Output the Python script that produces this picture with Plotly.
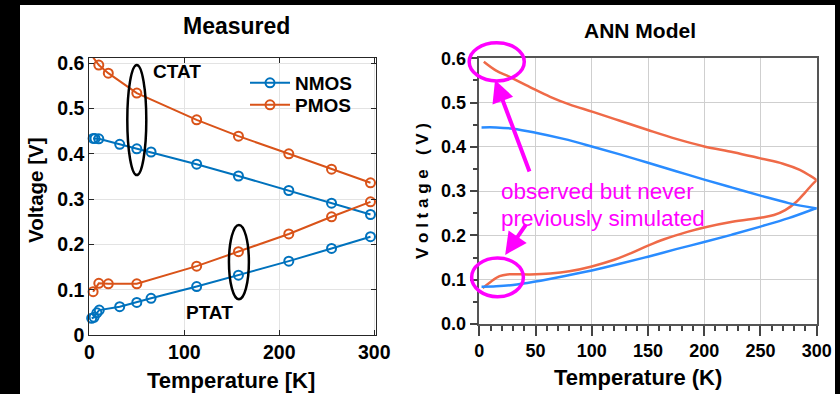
import plotly.graph_objects as go

# ---------------- Measured data ----------------
t_nmos_ctat = [4, 6, 10, 32, 50, 65, 113, 157, 210, 255, 296]
v_nmos_ctat = [0.434, 0.434, 0.433, 0.421, 0.411, 0.404, 0.377, 0.351, 0.319, 0.291, 0.266]
t_nmos_ptat = [2.5, 5, 8, 10.5, 32, 50, 65, 113, 157, 210, 255, 296]
v_nmos_ptat = [0.037, 0.039, 0.049, 0.055, 0.0625, 0.072, 0.081, 0.107, 0.132, 0.163, 0.191, 0.217]
t_pmos = [4, 10, 20, 50, 113, 157, 210, 255, 296]
v_pmos_ctat = [0.613, 0.596, 0.578, 0.534, 0.475, 0.439, 0.400, 0.366, 0.336]
v_pmos_ptat = [0.0956, 0.114, 0.113, 0.113, 0.152, 0.184, 0.223, 0.261, 0.294]

# ---------------- ANN model curves ----------------
t_ann_n = [2, 15, 30, 50, 75, 100, 125, 150, 175, 200, 225, 250, 275, 300]
v_ann_n_ctat = [0.444, 0.444, 0.441, 0.432, 0.418, 0.401, 0.383, 0.364, 0.345, 0.326, 0.308, 0.290, 0.273, 0.261]
v_ann_n_ptat = [0.084, 0.085, 0.088, 0.096, 0.108, 0.121, 0.136, 0.152, 0.169, 0.185, 0.202, 0.220, 0.239, 0.262]
t_ann_p_ctat = [4, 15, 27, 45, 63, 80, 101, 125, 150, 175, 200, 226, 250, 270, 285, 294, 300]
v_ann_p_ctat = [0.592, 0.572, 0.558, 0.535, 0.513, 0.496, 0.479, 0.459, 0.438, 0.418, 0.401, 0.388, 0.374, 0.362, 0.348, 0.335, 0.325]
t_ann_p_ptat = [3, 10, 18, 25, 45, 63, 80, 100, 120, 135, 150, 165, 185, 200, 225, 250, 262, 272, 282, 290, 296, 300]
v_ann_p_ptat = [0.081, 0.095, 0.108, 0.112, 0.112, 0.114, 0.119, 0.130, 0.145, 0.160, 0.177, 0.192, 0.208, 0.218, 0.231, 0.240, 0.246, 0.257, 0.276, 0.298, 0.315, 0.325]

x_ticks_meas = [0, 100, 200, 300]
y_ticks_meas = [0, 0.1, 0.2, 0.3, 0.4, 0.5, 0.6]
y_tick_text_meas = ["0", "0.1", "0.2", "0.3", "0.4", "0.5", "0.6"]

W, H = 840, 394
FONT = "Liberation Sans, Arial, sans-serif"
BLUE, ORANGE = "#0072BD", "#D95319"
ANN_BLUE, ANN_ORANGE = "#2a8cff", "#ef6a48"
MAGENTA = "#ff00ff"

# axis placement (pixels)
L_X0, L_X1, L_Y0, L_Y1 = 89.3, 376.0, 58.0, 335.0
R_X0, R_X1, R_Y0, R_Y1 = 479.3, 816.7, 58.3, 324.0
L_XRANGE, L_YRANGE = [0, 301.8], [0, 0.6115]
R_XRANGE, R_YRANGE = [0, 300], [0, 0.6]


def px(x):
    return x / W


def py(y):
    return 1 - y / H


def right_to_paper(t, v):
    """Map (temperature, voltage) on the ANN axes to paper coordinates."""
    xp = R_X0 + (t - R_XRANGE[0]) / (R_XRANGE[1] - R_XRANGE[0]) * (R_X1 - R_X0)
    yp = R_Y1 - (v - R_YRANGE[0]) / (R_YRANGE[1] - R_YRANGE[0]) * (R_Y1 - R_Y0)
    return px(xp), py(yp)


fig = go.Figure()

mk = dict(symbol="circle-open", size=9, line=dict(width=2))
meas = [
    (t_nmos_ctat, v_nmos_ctat, BLUE, "NMOS", True, "legend"),
    (t_pmos, v_pmos_ctat, ORANGE, "PMOS", True, "legend2"),
    (t_nmos_ptat, v_nmos_ptat, BLUE, "NMOS", False, "legend"),
    (t_pmos, v_pmos_ptat, ORANGE, "PMOS", False, "legend2"),
]
for tt, vv, col, name, show, leg in meas:
    fig.add_trace(go.Scatter(x=tt, y=vv, mode="lines+markers", name=name,
                             line=dict(color=col, width=2), marker=dict(color=col, **mk),
                             xaxis="x", yaxis="y", showlegend=show, legend=leg,
                             cliponaxis=False))

for tt, vv, col in [(t_ann_p_ctat, v_ann_p_ctat, ANN_ORANGE),
                    (t_ann_p_ptat, v_ann_p_ptat, ANN_ORANGE),
                    (t_ann_n, v_ann_n_ctat, ANN_BLUE),
                    (t_ann_n, v_ann_n_ptat, ANN_BLUE)]:
    fig.add_trace(go.Scatter(x=tt, y=vv, mode="lines", showlegend=False,
                             line=dict(color=col, width=2.5, shape="spline", smoothing=1.0),
                             xaxis="x2", yaxis="y2", cliponaxis=False))

tick_left = dict(family=FONT, size=19.5, color="black", weight="bold")
tick_right = dict(family=FONT, size=18, color="black", weight="bold")
leg_font = dict(family=FONT, size=19, color="black", weight="bold")

fig.update_layout(
    width=W, height=H,
    margin=dict(l=0, r=0, t=0, b=0, pad=0, autoexpand=False),
    paper_bgcolor="black",
    plot_bgcolor="white",
    font=dict(family=FONT, color="black"),
    showlegend=True,
    legend=dict(x=px(245), y=py(83), xanchor="left", yanchor="middle",
                bgcolor="rgba(0,0,0,0)", borderwidth=0, font=leg_font, itemwidth=40),
    legend2=dict(x=px(245), y=py(105), xanchor="left", yanchor="middle",
                 bgcolor="rgba(0,0,0,0)", borderwidth=0, font=leg_font, itemwidth=40),
    xaxis=dict(domain=[px(L_X0), px(L_X1)], range=L_XRANGE, tickvals=x_ticks_meas,
               ticks="inside", ticklen=5, tickcolor="#262626", mirror="allticks",
               showline=True, linecolor="#262626", linewidth=1,
               showgrid=True, gridcolor="#e3e3e3", zeroline=False, automargin=False,
               tickfont=tick_left, anchor="y"),
    yaxis=dict(domain=[py(L_Y1), py(L_Y0)], range=L_YRANGE, tickvals=y_ticks_meas,
               ticktext=y_tick_text_meas,
               ticks="inside", ticklen=5, tickcolor="#262626", mirror="allticks",
               showline=True, linecolor="#262626", linewidth=1,
               showgrid=True, gridcolor="#e3e3e3", zeroline=False, automargin=False,
               tickfont=tick_left, anchor="x"),
    xaxis2=dict(domain=[px(R_X0), px(R_X1)], range=R_XRANGE, dtick=50, tick0=0,
                ticks="outside", ticklen=10, tickcolor="#444", tickwidth=1.5,
                minor=dict(dtick=10, ticks="outside", ticklen=5, tickcolor="#444", showgrid=False),
                showline=True, linecolor="#555", linewidth=1.5, mirror=True,
                showgrid=True, gridcolor="#cfcfcf", zeroline=False, automargin=False,
                tickfont=tick_right, anchor="y2"),
    yaxis2=dict(domain=[py(R_Y1), py(R_Y0)], range=R_YRANGE, dtick=0.1, tick0=0,
                tickformat=".1f",
                ticks="outside", ticklen=8, tickcolor="#444", tickwidth=1.5,
                minor=dict(dtick=0.05, ticks="outside", ticklen=5, tickcolor="#444", showgrid=False),
                showline=True, linecolor="#555", linewidth=1.5, mirror=True,
                showgrid=True, gridcolor="#cfcfcf", zeroline=False, automargin=False,
                tickfont=tick_right, anchor="x2"),
)

# white page area inside the black border
shapes = [dict(type="rect", xref="paper", yref="paper", x0=px(20), x1=px(835), y0=0, y1=py(5),
               fillcolor="white", line=dict(width=0), layer="below")]

# black ellipses marking CTAT and PTAT groups
shapes.append(dict(type="circle", xref="x", yref="y", x0=40, x1=60, y0=0.353, y1=0.596,
                   line=dict(color="black", width=2.5)))
shapes.append(dict(type="circle", xref="x", yref="y", x0=147, x1=168, y0=0.079, y1=0.243,
                   line=dict(color="black", width=2.5)))

# magenta ellipses on the ANN panel
for tc, vc, dt, dv in [(15.5, 0.592, 24.5, 0.043), (16.2, 0.1054, 23.0, 0.0436)]:
    x0, y0 = right_to_paper(tc - dt, vc - dv)
    x1, y1 = right_to_paper(tc + dt, vc + dv)
    shapes.append(dict(type="circle", xref="paper", yref="paper", x0=x0, x1=x1, y0=y0, y1=y1,
                       line=dict(color=MAGENTA, width=3.5)))
fig.update_layout(shapes=shapes)

ann = []


def label(text, x, y, size, color="black", bold=True, angle=0, xanchor="center"):
    ann.append(dict(text=text, x=px(x), y=py(y), xref="paper", yref="paper",
                    showarrow=False, xanchor=xanchor, yanchor="middle", textangle=angle,
                    font=dict(family=FONT, size=size, color=color,
                              weight="bold" if bold else "normal")))


label("Measured", 236, 26, 23)
label("ANN Model", 640, 30, 21)
label("Temperature [K]", 231, 380, 22)
label("Temperature (K)", 638, 377, 22)
label("Voltage [V]", 35, 190, 20.5, angle=-90)
label("V o l t a g e   ( V )", 422, 191, 17, angle=-90)
label("observed but never", 499, 191, 22.5, color=MAGENTA, bold=False, xanchor="left")
label("previously simulated", 499, 218, 22.5, color=MAGENTA, bold=False, xanchor="left")

ann.append(dict(text="CTAT", x=92, y=0.581, xref="x", yref="y", showarrow=False,
                font=dict(family=FONT, size=19, color="black", weight="bold")))
ann.append(dict(text="PTAT", x=126, y=0.049, xref="x", yref="y", showarrow=False,
                font=dict(family=FONT, size=19, color="black", weight="bold")))

# magenta arrows pointing at the two circled regions
ann.append(dict(text="", x=14, y=0.551, xref="x2", yref="y2", showarrow=True,
                ax=35, ay=93, arrowhead=2, arrowsize=1.1, arrowwidth=4, arrowcolor=MAGENTA))
ann.append(dict(text="", x=23, y=0.156, xref="x2", yref="y2", showarrow=True,
                ax=22, ay=-32, arrowhead=2, arrowsize=1.1, arrowwidth=4, arrowcolor=MAGENTA))

fig.update_layout(annotations=ann)

fig.write_html("out.html")
